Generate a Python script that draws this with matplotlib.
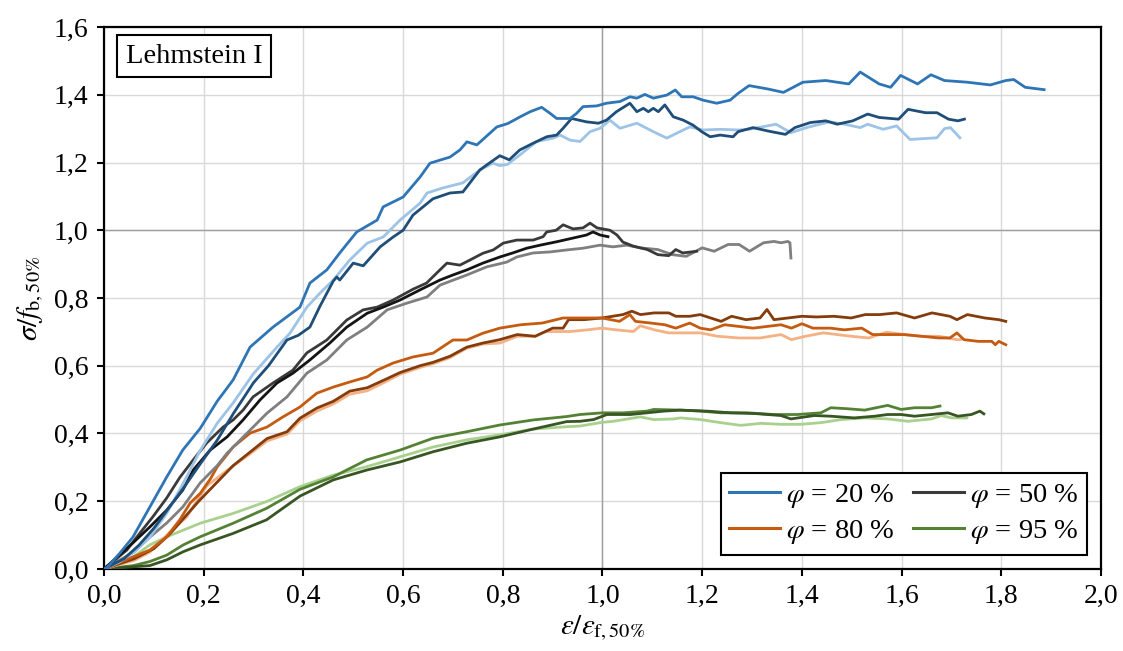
import matplotlib
matplotlib.use("Agg")
import matplotlib.pyplot as plt
from matplotlib.lines import Line2D
from matplotlib.ticker import FuncFormatter, MultipleLocator

plt.rcParams['font.family'] = 'serif'
plt.rcParams['font.serif'] = ['Liberation Serif', 'DejaVu Serif']
plt.rcParams['mathtext.fontset'] = 'stix'

# phi = 20 %
x_20a = [0, 0.005, 0.032, 0.058, 0.092, 0.126, 0.158, 0.193, 0.227, 0.259, 0.293, 0.339, 0.393, 0.413,
         0.447, 0.473, 0.507, 0.548, 0.56, 0.6, 0.634, 0.654, 0.694, 0.714, 0.728, 0.748, 0.788, 0.81,
         0.835, 0.855, 0.878, 0.895, 0.908, 0.935, 0.948, 0.961, 0.988, 1.008, 1.035, 1.055, 1.069,
         1.085, 1.102, 1.129, 1.146, 1.159, 1.182, 1.202, 1.229, 1.256, 1.272, 1.294, 1.332, 1.363,
         1.402, 1.448, 1.494, 1.517, 1.555, 1.578, 1.598, 1.632, 1.659, 1.686, 1.732, 1.778, 1.809,
         1.825, 1.848, 1.886]
y_20a = [0, 0.002, 0.047, 0.094, 0.183, 0.272, 0.351, 0.415, 0.495, 0.558, 0.655, 0.714, 0.773, 0.844,
         0.883, 0.933, 0.995, 1.03, 1.069, 1.098, 1.157, 1.198, 1.216, 1.237, 1.261, 1.252, 1.305, 1.315,
         1.335, 1.35, 1.363, 1.345, 1.33, 1.33, 1.345, 1.365, 1.367, 1.375, 1.38, 1.394, 1.39,
         1.401, 1.39, 1.399, 1.414, 1.394, 1.394, 1.384, 1.375, 1.384, 1.404, 1.427, 1.417, 1.407,
         1.437, 1.442, 1.432, 1.467, 1.432, 1.422, 1.457, 1.432, 1.459, 1.442, 1.437, 1.429, 1.442,
         1.445, 1.422, 1.415]

x_20b = [0, 0.03, 0.06, 0.092, 0.126, 0.158, 0.193, 0.227, 0.259, 0.299, 0.347, 0.373, 0.407, 0.433,
         0.46, 0.493, 0.528, 0.56, 0.594, 0.634, 0.648, 0.68, 0.72, 0.754, 0.78, 0.794, 0.809, 0.834,
         0.868, 0.901, 0.915, 0.935, 0.955, 0.975, 0.995, 1.015, 1.035, 1.069, 1.102, 1.129, 1.155,
         1.175, 1.202, 1.236, 1.272, 1.294, 1.348, 1.378, 1.409, 1.455, 1.486, 1.517, 1.532, 1.563,
         1.59, 1.617, 1.671, 1.686, 1.698, 1.717]
y_20b = [0, 0.02, 0.05, 0.094, 0.165, 0.25, 0.35, 0.43, 0.49, 0.575, 0.655, 0.696, 0.773, 0.814,
         0.853, 0.912, 0.962, 0.98, 1.03, 1.08, 1.11, 1.125, 1.14, 1.178, 1.198, 1.191, 1.194, 1.222,
         1.262, 1.272, 1.281, 1.266, 1.262, 1.291, 1.301, 1.325, 1.301, 1.316, 1.291, 1.272, 1.291,
         1.305, 1.296, 1.298, 1.296, 1.298, 1.313, 1.288, 1.303, 1.32, 1.313, 1.303, 1.313, 1.298,
         1.308, 1.268, 1.273, 1.3, 1.303, 1.273]

x_20c = [0, 0.04, 0.07, 0.1, 0.13, 0.16, 0.193, 0.227, 0.26, 0.3, 0.33, 0.367, 0.39, 0.413, 0.433,
         0.447, 0.46, 0.467, 0.473, 0.493, 0.5, 0.52, 0.554, 0.58, 0.6, 0.62, 0.64, 0.66, 0.694, 0.72,
         0.734, 0.754, 0.768, 0.794, 0.813, 0.834, 0.861, 0.888, 0.908, 0.921, 0.938, 0.968, 0.992,
         1.008, 1.028, 1.055, 1.069, 1.082, 1.092, 1.102, 1.112, 1.125, 1.142, 1.162, 1.182, 1.199,
         1.216, 1.236, 1.262, 1.272, 1.302, 1.332, 1.367, 1.386, 1.417, 1.448, 1.471, 1.502, 1.532,
         1.555, 1.594, 1.613, 1.648, 1.671, 1.694, 1.713, 1.726]
y_20c = [0, 0.03, 0.07, 0.12, 0.18, 0.24, 0.31, 0.38, 0.46, 0.55, 0.6, 0.676, 0.69, 0.714, 0.775,
         0.814, 0.85, 0.862, 0.853, 0.89, 0.903, 0.895, 0.951, 0.98, 1.0, 1.045, 1.069, 1.093, 1.11, 1.113,
         1.14, 1.178, 1.193, 1.22, 1.208, 1.237, 1.257, 1.276, 1.281, 1.301, 1.33, 1.32, 1.316,
         1.325, 1.35, 1.375, 1.35, 1.36, 1.35, 1.36, 1.35, 1.37, 1.335, 1.325, 1.31, 1.291,
         1.276, 1.281, 1.276, 1.291, 1.303, 1.293, 1.283, 1.303, 1.318, 1.323, 1.313, 1.323, 1.343,
         1.333, 1.328, 1.357, 1.347, 1.347, 1.328, 1.323, 1.328]

# phi = 50 %
x_50a = [0, 0.046, 0.072, 0.098, 0.126, 0.152, 0.179, 0.206, 0.239, 0.259, 0.279, 0.299, 0.339, 0.379,
         0.407, 0.447, 0.487, 0.52, 0.548, 0.58, 0.62, 0.647, 0.667, 0.688, 0.714, 0.734, 0.76, 0.781,
         0.801, 0.828, 0.861, 0.881, 0.888, 0.907, 0.921, 0.941, 0.961, 0.975, 0.989, 1.015, 1.029,
         1.041, 1.062, 1.09, 1.111, 1.133, 1.147, 1.161, 1.189]
y_50a = [0, 0.056, 0.106, 0.154, 0.21, 0.27, 0.322, 0.372, 0.419, 0.44, 0.469, 0.508, 0.549, 0.587,
         0.638, 0.676, 0.735, 0.765, 0.773, 0.794, 0.826, 0.844, 0.873, 0.903, 0.897, 0.912, 0.932, 0.942,
         0.962, 0.971, 0.971, 0.981, 0.995, 1.0, 1.016, 1.004, 1.007, 1.021, 1.007, 1.0, 0.986,
         0.965, 0.953, 0.943, 0.928, 0.925, 0.943, 0.933, 0.938]

x_50b = [0, 0.058, 0.092, 0.126, 0.158, 0.179, 0.213, 0.247, 0.279, 0.313, 0.347, 0.379, 0.413, 0.453,
         0.487, 0.528, 0.56, 0.594, 0.634, 0.674, 0.7, 0.728, 0.76, 0.794, 0.82, 0.848, 0.875, 0.908,
         0.941, 0.968, 0.981, 0.995, 1.011]
y_50b = [0, 0.077, 0.124, 0.174, 0.233, 0.292, 0.351, 0.39, 0.44, 0.499, 0.549, 0.578, 0.617, 0.667,
         0.714, 0.755, 0.773, 0.794, 0.824, 0.853, 0.868, 0.883, 0.903, 0.921, 0.933, 0.947, 0.956, 0.966,
         0.977, 0.986, 0.995, 0.986, 0.981]

x_50c = [0, 0.06, 0.092, 0.126, 0.158, 0.193, 0.227, 0.247, 0.287, 0.327, 0.367, 0.407, 0.447, 0.487,
         0.528, 0.568, 0.608, 0.648, 0.674, 0.728, 0.768, 0.808, 0.828, 0.861, 0.895, 0.929, 0.961,
         0.995, 1.021, 1.049, 1.076, 1.111, 1.14, 1.168, 1.2, 1.224, 1.252, 1.274, 1.295, 1.323, 1.344,
         1.358, 1.372, 1.376, 1.378]
y_50c = [0, 0.05, 0.094, 0.136, 0.183, 0.254, 0.305, 0.342, 0.401, 0.46, 0.508, 0.578, 0.617, 0.676,
         0.714, 0.765, 0.785, 0.803, 0.838, 0.868, 0.892, 0.906, 0.921, 0.933, 0.936, 0.942, 0.947,
         0.956, 0.951, 0.956, 0.948, 0.943, 0.928, 0.923, 0.948, 0.938, 0.958, 0.958, 0.938, 0.963, 0.967,
         0.963, 0.967, 0.963, 0.918]

# phi = 80 %
x_80a = [0, 0.012, 0.059, 0.092, 0.126, 0.152, 0.173, 0.193, 0.213, 0.227, 0.259, 0.293, 0.327, 0.359,
         0.393, 0.427, 0.46, 0.493, 0.528, 0.548, 0.58, 0.62, 0.66, 0.7, 0.728, 0.76, 0.794, 0.836, 0.879,
         0.921, 0.956, 0.999, 1.034, 1.055, 1.066, 1.097, 1.125, 1.147, 1.175, 1.196, 1.217, 1.245,
         1.274, 1.302, 1.33, 1.358, 1.379, 1.4, 1.422, 1.457, 1.485, 1.52, 1.542, 1.57, 1.605, 1.64,
         1.675, 1.697, 1.711, 1.725, 1.754, 1.781, 1.788, 1.795, 1.809]
y_80a = [0, 0.007, 0.036, 0.056, 0.095, 0.145, 0.195, 0.223, 0.265, 0.301, 0.36, 0.401, 0.419, 0.449,
         0.478, 0.519, 0.537, 0.552, 0.567, 0.587, 0.608, 0.626, 0.637, 0.676, 0.676, 0.696, 0.711, 0.721,
         0.726, 0.741, 0.741, 0.741, 0.731, 0.751, 0.731, 0.726, 0.721, 0.711, 0.726, 0.711, 0.706, 0.721,
         0.716, 0.711, 0.716, 0.721, 0.711, 0.724, 0.711, 0.711, 0.706, 0.711, 0.692, 0.692, 0.692, 0.687,
         0.682, 0.682, 0.697, 0.677, 0.672, 0.672, 0.662, 0.672, 0.662]

x_80b = [0, 0.06, 0.1, 0.13, 0.16, 0.19, 0.213, 0.259, 0.293, 0.327, 0.367, 0.393, 0.427, 0.46, 0.493,
         0.528, 0.568, 0.594, 0.634, 0.66, 0.694, 0.728, 0.76, 0.794, 0.829, 0.865, 0.9, 0.921, 0.932,
         0.963, 0.999, 1.02, 1.041, 1.059, 1.076, 1.104, 1.133, 1.147, 1.175, 1.196, 1.217, 1.238, 1.259,
         1.288, 1.316, 1.33, 1.344, 1.372, 1.4, 1.429, 1.464, 1.499, 1.527, 1.556, 1.59, 1.626, 1.661,
         1.697, 1.711, 1.732, 1.767, 1.795, 1.809]
y_80b = [0, 0.03, 0.06, 0.1, 0.15, 0.2, 0.235, 0.305, 0.345, 0.385, 0.405, 0.445, 0.475, 0.495, 0.525,
         0.535, 0.562, 0.58, 0.6, 0.61, 0.628, 0.655, 0.667, 0.677, 0.692, 0.687, 0.711, 0.711, 0.736,
         0.736, 0.741, 0.746, 0.751, 0.761, 0.751, 0.756, 0.756, 0.746, 0.746, 0.751, 0.741, 0.731, 0.746,
         0.736, 0.741, 0.766, 0.736, 0.741, 0.746, 0.744, 0.746, 0.741, 0.751, 0.751, 0.756, 0.741, 0.756,
         0.746, 0.736, 0.751, 0.741, 0.736, 0.731]

x_80c = [0, 0.06, 0.092, 0.126, 0.166, 0.186, 0.206, 0.246, 0.293, 0.327, 0.367, 0.393, 0.427, 0.46,
         0.493, 0.528, 0.568, 0.594, 0.634, 0.66, 0.694, 0.728, 0.76, 0.794, 0.829, 0.865, 0.886, 0.935,
         0.97, 0.999, 1.027, 1.062, 1.076, 1.104, 1.133, 1.161, 1.196, 1.231, 1.274, 1.316, 1.358, 1.379,
         1.407, 1.443, 1.471, 1.499, 1.534, 1.57, 1.605, 1.64, 1.675, 1.711, 1.718]
y_80c = [0, 0.025, 0.05, 0.1, 0.154, 0.2, 0.245, 0.29, 0.34, 0.378, 0.398, 0.437, 0.466, 0.487,
         0.516, 0.526, 0.555, 0.575, 0.595, 0.606, 0.624, 0.652, 0.664, 0.667, 0.687, 0.687, 0.701, 0.701,
         0.706, 0.711, 0.706, 0.701, 0.718, 0.706, 0.697, 0.697, 0.697, 0.687, 0.682, 0.682, 0.692, 0.677,
         0.687, 0.697, 0.692, 0.687, 0.682, 0.699, 0.692, 0.687, 0.687, 0.677, 0.677]

# phi = 95 %
x_95a = [0, 0.059, 0.092, 0.126, 0.159, 0.193, 0.259, 0.326, 0.393, 0.46, 0.527, 0.594, 0.66, 0.727,
         0.794, 0.861, 0.928, 0.955, 1.0, 1.042, 1.089, 1.103, 1.156, 1.197, 1.237, 1.291, 1.344, 1.391,
         1.438, 1.458, 1.492, 1.526, 1.572, 1.599, 1.626, 1.66, 1.677]
y_95a = [0, 0.01, 0.022, 0.041, 0.071, 0.095, 0.135, 0.179, 0.235, 0.272, 0.322, 0.351, 0.386, 0.405,
         0.425, 0.44, 0.45, 0.456, 0.461, 0.461, 0.466, 0.471, 0.469, 0.466, 0.461, 0.461, 0.456, 0.456,
         0.461, 0.476, 0.473, 0.469, 0.483, 0.471, 0.476, 0.476, 0.481]

x_95b = [0, 0.092, 0.126, 0.159, 0.193, 0.259, 0.326, 0.393, 0.46, 0.527, 0.594, 0.66, 0.727, 0.794,
         0.861, 0.928, 0.955, 0.982, 1.009, 1.056, 1.089, 1.123, 1.156, 1.21, 1.257, 1.304, 1.358, 1.378,
         1.425, 1.458, 1.505, 1.546, 1.572, 1.599, 1.626, 1.66, 1.693, 1.713, 1.74, 1.757, 1.765]
y_95b = [0, 0.01, 0.027, 0.051, 0.071, 0.105, 0.145, 0.215, 0.263, 0.292, 0.316, 0.346, 0.371, 0.39,
         0.413, 0.435, 0.436, 0.441, 0.456, 0.456, 0.461, 0.466, 0.469, 0.466, 0.461, 0.459, 0.453, 0.443,
         0.453, 0.451, 0.446, 0.451, 0.456, 0.456, 0.451, 0.456, 0.461, 0.451, 0.456, 0.466, 0.458]

x_95c = [0, 0.059, 0.092, 0.126, 0.193, 0.259, 0.326, 0.393, 0.46, 0.527, 0.594, 0.66, 0.727, 0.794,
         0.861, 0.928, 0.955, 1.0, 1.022, 1.076, 1.103, 1.143, 1.156, 1.197, 1.237, 1.277, 1.318, 1.358,
         1.398, 1.438, 1.479, 1.526, 1.572, 1.613, 1.66, 1.68, 1.7, 1.731]
y_95c = [0, 0.036, 0.071, 0.095, 0.135, 0.164, 0.199, 0.243, 0.277, 0.302, 0.331, 0.36, 0.381, 0.396,
         0.413, 0.42, 0.422, 0.433, 0.436, 0.449, 0.441, 0.443, 0.446, 0.441, 0.432, 0.424, 0.43, 0.427,
         0.427, 0.432, 0.441, 0.446, 0.443, 0.436, 0.443, 0.453, 0.446, 0.446]

legend_labels = [r'$\varphi$ = 20 %', r'$\varphi$ = 80 %', r'$\varphi$ = 50 %', r'$\varphi$ = 95 %']

curves = [
    (x_95c, y_95c, '#A9D18E'), (x_95a, y_95a, '#548235'), (x_95b, y_95b, '#375623'),
    (x_80c, y_80c, '#F4B183'), (x_80b, y_80b, '#843C0C'), (x_80a, y_80a, '#C55A11'),
    (x_50c, y_50c, '#7F7F7F'), (x_50a, y_50a, '#3A3A3A'), (x_50b, y_50b, '#141414'),
    (x_20b, y_20b, '#9DC3E6'), (x_20c, y_20c, '#1F4E79'), (x_20a, y_20a, '#2E75B6'),
]

fig = plt.figure(figsize=(11.23, 6.51), dpi=100)
ax = fig.add_axes([0.0926, 0.126, 0.8878, 0.8325])

for xs, ys, c in curves:
    ax.plot(xs, ys, color=c, lw=2.0, zorder=3)

ax.set_xlim(0, 2.0)
ax.set_ylim(0, 1.6)
ax.xaxis.set_major_locator(MultipleLocator(0.2))
ax.yaxis.set_major_locator(MultipleLocator(0.2))
comma = FuncFormatter(lambda v, p: f'{v:.1f}'.replace('.', ','))
ax.xaxis.set_major_formatter(comma)
ax.yaxis.set_major_formatter(comma)

ax.grid(True, color='#D9D9D9', lw=1.0, zorder=0)
ax.axvline(1.0, color='#A0A0A0', lw=1.0, zorder=1)
ax.axhline(1.0, color='#A0A0A0', lw=1.0, zorder=1)
ax.set_axisbelow(True)

for s in ax.spines.values():
    s.set_linewidth(1.6)
    s.set_color('black')
ax.tick_params(direction='out', length=5, width=1.5, labelsize=20, pad=6)

ax.set_xlabel(r'$\varepsilon/\varepsilon_{\mathrm{f,50\%}}$', fontsize=21, labelpad=3)
ax.set_ylabel(r'$\sigma/f_{\mathrm{b,50\%}}$', fontsize=21, labelpad=6)

ax.text(0.022, 0.9465, 'Lehmstein I', transform=ax.transAxes, fontsize=20.5, va='center', ha='left',
        zorder=5, bbox=dict(boxstyle='square,pad=0.3', fc='white', ec='black', lw=1.5))

handles = [Line2D([], [], color=c, lw=2.2) for c in ['#2E75B6', '#C55A11', '#3A3A3A', '#548235']]
leg = ax.legend(handles, legend_labels, ncol=2, loc='lower right', bbox_to_anchor=(0.986, 0.026),
                borderaxespad=0, fontsize=20.5, frameon=True, fancybox=False, framealpha=1,
                edgecolor='black', handlelength=1.8, handletextpad=0.2, columnspacing=0.65,
                labelspacing=0.3, borderpad=0.3)
leg.get_frame().set_linewidth(1.5)
leg.set_zorder(6)

fig.savefig('out.png', dpi=100)
